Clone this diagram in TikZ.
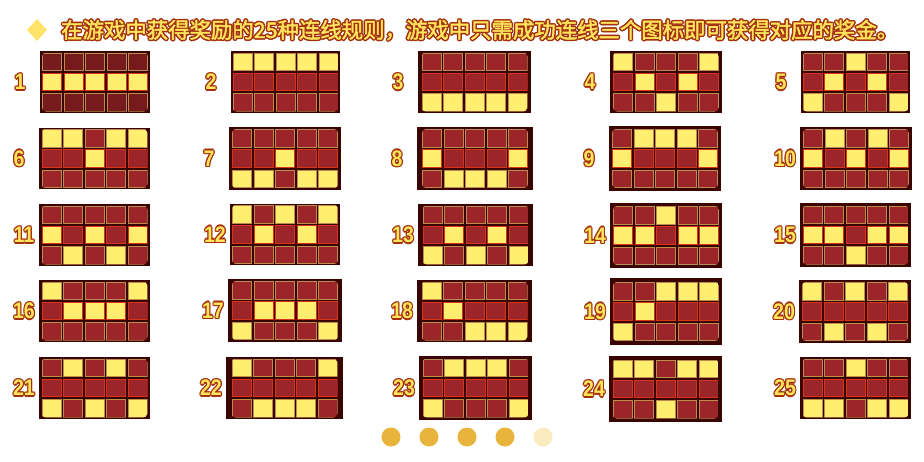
\documentclass[tikz,border=0pt]{standalone}
\usepackage{fontspec}
\usepackage{graphicx}
\setmainfont{Liberation Sans}
\newfontfamily\cjk{Noto Sans CJK SC}[FakeBold=2]
\definecolor{frameC}{HTML}{3A0500}
\definecolor{cellR}{HTML}{9B2529}
\definecolor{cellD}{HTML}{761A1D}
\definecolor{cellY}{HTML}{FFEE70}
\definecolor{edgeA}{HTML}{BC8C4C}
\definecolor{edgeB}{HTML}{D8341A}
\definecolor{numline}{HTML}{A3300C}
\definecolor{numfill}{HTML}{FFE45C}
\definecolor{dotC}{HTML}{E8B43C}
\definecolor{dotL}{HTML}{FDEBC0}
\definecolor{diamC}{HTML}{FFE36B}
\newcommand\ofs[3]{\rlap{\kern#1\raisebox{#2}{#3}}}
\newcommand\outlined[3]{{\color{#1}%
  \ofs{-#2pt}{0pt}{#3}\ofs{#2pt}{0pt}{#3}\ofs{0pt}{#2pt}{#3}\ofs{0pt}{-#2pt}{#3}%
  \ofs{\dimexpr-#2pt*7/10\relax}{\dimexpr#2pt*7/10\relax}{#3}%
  \ofs{\dimexpr#2pt*7/10\relax}{\dimexpr#2pt*7/10\relax}{#3}%
  \ofs{\dimexpr-#2pt*7/10\relax}{\dimexpr-#2pt*7/10\relax}{#3}%
  \ofs{\dimexpr#2pt*7/10\relax}{\dimexpr-#2pt*7/10\relax}{#3}}%
  {\color{numfill}#3}}
\tikzset{
  cellbox/.style={line width=0.8pt},
  numlbl/.style={inner sep=0pt, font=\fontsize{22.5}{24}\selectfont\bfseries},
  pagedot/.style={circle, minimum size=19pt, inner sep=0pt},
}
% #1 label, #2 x, #3 y, #4 w, #5 h, #6 pattern
\newcommand\payline[6]{%
  \fill[frameC] (#2,#3) rectangle ++(#4,#5);
  \begin{scope}
    \clip[rounded corners=4pt] ({#2+(#4-106)/2},{#3+(#5-59)/2}) rectangle ++(106,59);
    \foreach \v [count=\i from 0] in {#6} {
      \pgfmathtruncatemacro\cc{mod(\i,5)}
      \pgfmathtruncatemacro\rr{\i/5}
      \ifnum\rr=1 \def\ec{edgeB}\else\def\ec{edgeA}\fi
      \filldraw[cellbox, fill=cell\v, draw=\ec]
        ({#2+(#4-106)/2+\cc*21.54+0.4},{#3+(#5-59)/2+\rr*20.25+0.4}) rectangle ++(19.04,17.7);
    }
  \end{scope}
  \node[numlbl] (n#1) at ({#2-(#1>9?15:20)},{#3+#5/2}) {\scalebox{0.87}[1]{\outlined{numline}{1.4}{#1}}};
}
\begin{document}
\begin{tikzpicture}[x=1pt,y=-1pt]
\useasboundingbox (0,0) rectangle (924,461);
\fill[diamC] (37,19) -- (47,30) -- (37,41) -- (27,30) -- cycle;
\node[anchor=west, inner sep=0pt] (title) at (61,30)
  {\cjk\fontsize{21.4}{24}\selectfont\outlined{numline}{1.5}{在游戏中获得奖励的25种连线规则，游戏中只需成功连线三个图标即可获得对应的奖金。}};
\payline{1}{40}{51}{110}{62}{D,D,D,D,D,Y,Y,Y,Y,Y,D,D,D,D,D}
\payline{2}{231}{51}{109}{62}{Y,Y,Y,Y,Y,R,R,R,R,R,R,R,R,R,R}
\payline{3}{418}{51}{113}{62}{R,R,R,R,R,R,R,R,R,R,Y,Y,Y,Y,Y}
\payline{4}{610}{51}{112}{62}{Y,R,R,R,Y,R,Y,R,Y,R,R,R,Y,R,R}
\payline{5}{801}{51}{109}{62}{R,R,Y,R,R,R,Y,R,Y,R,Y,R,R,R,Y}
\payline{6}{39}{128}{111}{61}{Y,Y,R,Y,Y,R,R,Y,R,R,R,R,R,R,R}
\payline{7}{229}{127}{112}{63}{R,R,R,R,R,R,R,Y,R,R,Y,Y,R,Y,Y}
\payline{8}{417}{127}{116}{63}{R,R,R,R,R,Y,R,R,R,Y,R,Y,Y,Y,R}
\payline{9}{609}{126}{112}{65}{R,Y,Y,Y,R,Y,R,R,R,Y,R,R,R,R,R}
\payline{10}{800}{127}{112}{63}{R,Y,R,Y,R,Y,R,Y,R,Y,R,R,R,R,R}
\payline{11}{39}{204}{111}{62}{R,R,R,R,R,Y,R,Y,R,Y,R,Y,R,Y,R}
\payline{12}{230}{204}{110}{61}{Y,R,Y,R,Y,R,Y,R,Y,R,R,R,R,R,R}
\payline{13}{418}{204}{115}{62}{R,R,R,R,R,R,Y,R,Y,R,Y,R,Y,R,Y}
\payline{14}{610}{203}{112}{65}{R,R,Y,R,R,Y,Y,R,Y,Y,R,R,R,R,R}
\payline{15}{800}{203}{111}{64}{R,R,R,R,R,Y,Y,R,Y,Y,R,R,Y,R,R}
\payline{16}{39}{280}{111}{62}{Y,R,R,R,Y,R,Y,Y,Y,R,R,R,R,R,R}
\payline{17}{228}{279}{114}{63}{R,R,R,R,R,R,Y,Y,Y,R,Y,R,R,R,Y}
\payline{18}{417}{280}{115}{62}{Y,R,R,R,R,R,Y,R,R,R,R,R,Y,Y,Y}
\payline{19}{610}{278}{112}{67}{R,R,Y,Y,Y,R,Y,R,R,R,Y,R,R,R,R}
\payline{20}{799}{280}{112}{63}{Y,R,Y,R,Y,R,R,R,R,R,R,Y,R,Y,R}
\payline{21}{39}{357}{111}{62}{R,Y,R,Y,R,R,R,R,R,R,Y,R,Y,R,Y}
\payline{22}{226}{357}{117}{62}{Y,R,R,R,Y,R,R,R,R,R,R,Y,Y,Y,R}
\payline{23}{419}{356}{113}{64}{R,Y,Y,Y,R,R,R,R,R,R,Y,R,R,R,Y}
\payline{24}{609}{356}{113}{66}{Y,Y,R,Y,Y,R,R,R,R,R,R,R,Y,R,R}
\payline{25}{800}{357}{111}{62}{R,R,Y,R,R,R,R,R,R,R,Y,Y,R,Y,Y}
\node[pagedot, fill=dotC] (d1) at (391,437) {};
\node[pagedot, fill=dotC] (d2) at (429,437) {};
\node[pagedot, fill=dotC] (d3) at (467,437) {};
\node[pagedot, fill=dotC] (d4) at (505,437) {};
\node[pagedot, fill=dotL] (d5) at (543,437) {};
\end{tikzpicture}
\end{document}
